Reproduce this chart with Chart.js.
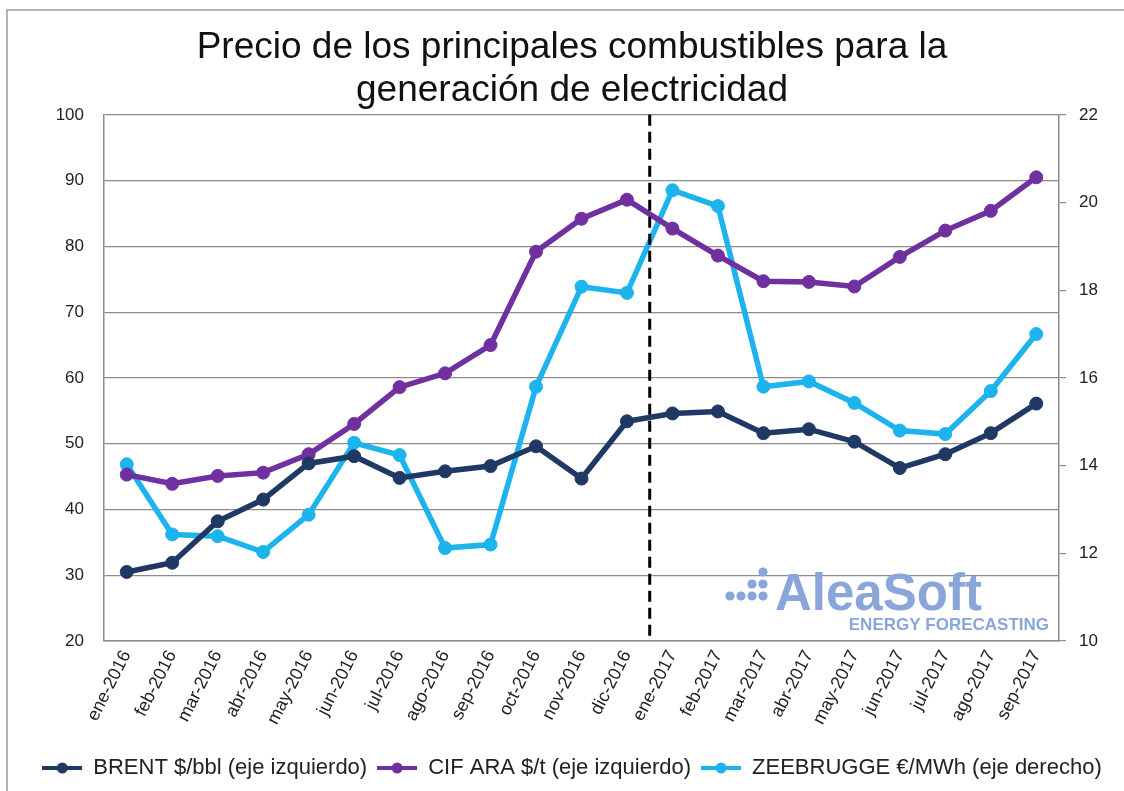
<!DOCTYPE html>
<html>
<head>
<meta charset="utf-8">
<script src="https://cdn.jsdelivr.net/npm/chart.js@4/dist/chart.umd.min.js"></script>
<style>
  html, body { margin: 0; padding: 0; background: #fff; }
  #wrap { position: relative; width: 1124px; height: 791px; }
</style>
</head>
<body>
<div id="wrap"><canvas id="fuelChart" width="1124" height="791"></canvas></div>
<script>
  // Months on the x axis
  const months = ["ene-2016", "feb-2016", "mar-2016", "abr-2016", "may-2016", "jun-2016",
    "jul-2016", "ago-2016", "sep-2016", "oct-2016", "nov-2016", "dic-2016",
    "ene-2017", "feb-2017", "mar-2017", "abr-2017", "may-2017", "jun-2017",
    "jul-2017", "ago-2017", "sep-2017"];

  // BRENT $/bbl (left axis)
  const brent = [30.5, 31.9, 38.2, 41.5, 47.0, 48.1, 44.8, 45.8, 46.6, 49.6, 44.7, 53.4,
    54.6, 54.9, 51.6, 52.2, 50.3, 46.3, 48.4, 51.6, 56.1];

  // CIF ARA $/t (left axis)
  const cifAra = [45.3, 43.9, 45.1, 45.6, 48.4, 53.0, 58.6, 60.7, 65.0, 79.2, 84.2, 87.1,
    82.7, 78.6, 74.7, 74.6, 73.9, 78.4, 82.4, 85.4, 90.5];

  // ZEEBRUGGE €/MWh (right axis)
  const zeebrugge = [14.03, 12.43, 12.39, 12.03, 12.88, 14.52, 14.24, 12.12, 12.2, 15.8, 18.08, 17.94,
    20.28, 19.92, 15.8, 15.92, 15.43, 14.8, 14.72, 15.7, 17.0];

  // Axis ranges
  const leftAxis = { min: 20, max: 100, step: 10 };
  const rightAxis = { min: 10, max: 22, step: 2 };

  // Dashed line goes between these two months
  const dividerBetween = ["dic-2016", "ene-2017"];

  const fontFamily = "'Liberation Sans', Arial, sans-serif";

  // Legend marker: short line with a dot in the middle
  function legendMarker(color) {
    const c = document.createElement("canvas");
    c.width = 40; c.height = 14;
    const g = c.getContext("2d");
    g.strokeStyle = color; g.lineWidth = 4;
    g.beginPath(); g.moveTo(0, 7); g.lineTo(40, 7); g.stroke();
    g.fillStyle = color;
    g.beginPath(); g.arc(20, 7, 5.5, 0, Math.PI * 2); g.fill();
    return c;
  }

  // Frame, dashed divider and the watermark
  const extras = {
    id: "extras",
    beforeDraw(chart) {
      const ctx = chart.ctx;
      ctx.save();
      ctx.strokeStyle = "#9a9a9a";
      ctx.lineWidth = 1.5;
      ctx.beginPath();
      ctx.moveTo(7, 791); ctx.lineTo(7, 10); ctx.lineTo(1124, 10);
      ctx.stroke();
      ctx.restore();
    },
    beforeDatasetsDraw(chart) {
      const ctx = chart.ctx;
      const area = chart.chartArea;
      ctx.save();
      // watermark
      const lx = area.right - 329, ly = area.bottom - 69;
      ctx.fillStyle = "#89a5da";
      const dots = [[0, 24], [11, 24], [22, 24], [33, 24], [22, 12], [33, 12], [33, 0]];
      dots.forEach(d => {
        ctx.beginPath(); ctx.arc(lx + d[0], ly + d[1], 4.6, 0, Math.PI * 2); ctx.fill();
      });
      ctx.font = "bold 51px " + fontFamily;
      ctx.textBaseline = "alphabetic";
      ctx.fillText("AleaSoft", lx + 45, ly + 38);
      ctx.font = "bold 17px " + fontFamily;
      ctx.textAlign = "right";
      ctx.fillText("ENERGY FORECASTING", area.right - 10, ly + 58);
      ctx.restore();
    },
    afterDatasetsDraw(chart) {
      const ctx = chart.ctx;
      const area = chart.chartArea;
      const x = chart.scales.x;
      const xa = x.getPixelForValue(months.indexOf(dividerBetween[0]));
      const xb = x.getPixelForValue(months.indexOf(dividerBetween[1]));
      const xm = (xa + xb) / 2;
      ctx.save();
      ctx.strokeStyle = "#000";
      ctx.lineWidth = 3;
      ctx.setLineDash([11, 6]);
      ctx.beginPath();
      ctx.moveTo(xm, area.top);
      ctx.lineTo(xm, area.bottom);
      ctx.stroke();
      ctx.restore();
    }
  };

  const colors = ["#203864", "#7030a0", "#1db3ec"];
  const markers = colors.map(legendMarker);

  const ctx = document.getElementById("fuelChart").getContext("2d");
  const chart = new Chart(ctx, {
    type: "line",
    data: {
      labels: months,
      datasets: [{
        label: "BRENT $/bbl (eje izquierdo)",
        data: brent,
        yAxisID: "y",
        borderColor: colors[0],
        backgroundColor: colors[0]
      }, {
        label: "CIF ARA $/t (eje izquierdo)",
        data: cifAra,
        yAxisID: "y",
        borderColor: colors[1],
        backgroundColor: colors[1]
      }, {
        label: "ZEEBRUGGE €/MWh (eje derecho)",
        data: zeebrugge,
        yAxisID: "y1",
        borderColor: colors[2],
        backgroundColor: colors[2]
      }]
    },
    options: {
      responsive: false,
      animation: false,
      layout: { padding: { top: 0, left: 20, right: 0, bottom: 2 } },
      elements: {
        line: { borderWidth: 5.5, tension: 0 },
        point: { radius: 6.5, hoverRadius: 6.5, pointStyle: "circle" }
      },
      plugins: {
        title: {
          display: true,
          text: ["Precio de los principales combustibles para la", "generación de electricidad"],
          color: "#111",
          font: { family: fontFamily, size: 37, weight: "normal", lineHeight: 1.16 },
          padding: { top: 26, bottom: 3 }
        },
        legend: {
          position: "bottom",
          labels: {
            usePointStyle: true,
            pointStyleWidth: 40,
            color: "#222",
            padding: 10,
            font: { family: fontFamily, size: 22 },
            generateLabels: (c) => c.data.datasets.map((ds, i) => ({
              text: ds.label,
              pointStyle: markers[i],
              fillStyle: ds.borderColor,
              strokeStyle: ds.borderColor,
              lineWidth: 0,
              hidden: false,
              datasetIndex: i,
              fontColor: "#222"
            }))
          }
        },
        tooltip: { enabled: false }
      },
      scales: {
        x: {
          offset: true,
          grid: { display: false, drawTicks: false },
          border: { display: true, color: "#8c8c8c", width: 1.5 },
          ticks: {
            color: "#222",
            font: { family: fontFamily, size: 18 },
            minRotation: 63,
            maxRotation: 63,
            autoSkip: false,
            padding: 6
          },
          afterFit: (s) => { s.height = 106; }
        },
        y: {
          position: "left",
          min: leftAxis.min,
          max: leftAxis.max,
          grid: { color: "#8c8c8c", lineWidth: 1.2, drawTicks: false },
          border: { display: true, color: "#8c8c8c", width: 1.5 },
          ticks: {
            stepSize: leftAxis.step,
            color: "#222",
            padding: 20,
            font: { family: fontFamily, size: 17 }
          },
          afterFit: (s) => { s.width = 84; }
        },
        y1: {
          position: "right",
          min: rightAxis.min,
          max: rightAxis.max,
          grid: { drawOnChartArea: false, drawTicks: true, tickLength: 7, color: "#8c8c8c", lineWidth: 1.2 },
          border: { display: true, color: "#8c8c8c", width: 1.5 },
          ticks: {
            stepSize: rightAxis.step,
            color: "#222",
            padding: 13,
            font: { family: fontFamily, size: 17 }
          },
          afterFit: (s) => { s.width = 65; }
        }
      }
    },
    plugins: [extras]
  });
</script>
</body>
</html>
